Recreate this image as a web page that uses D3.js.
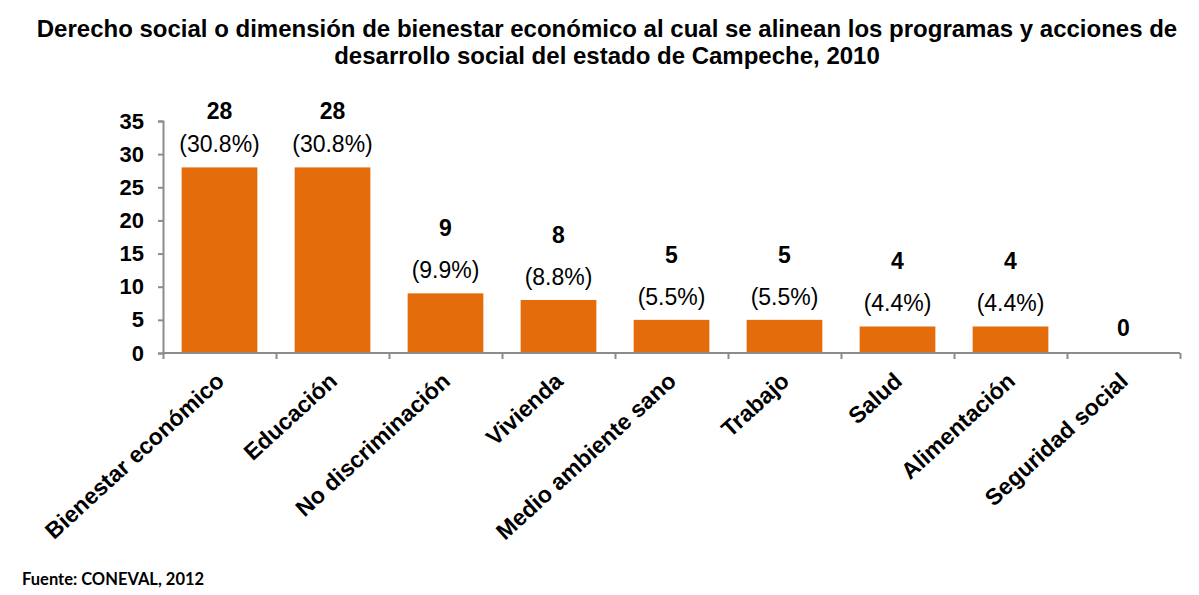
<!DOCTYPE html>
<html><head><meta charset="utf-8">
<script src="https://cdn.jsdelivr.net/npm/d3@7/dist/d3.min.js"></script>
<style>
body{margin:0;background:#fff;}
</style></head>
<body><svg id="c" width="1199" height="595" font-family="Liberation Sans, Arial, sans-serif"></svg>
<script>
const categories = ["Bienestar económico","Educación","No discriminación","Vivienda","Medio ambiente sano","Trabajo","Salud","Alimentación","Seguridad social"];
const values = [28,28,9,8,5,5,4,4,0];
const percentLabels = ["(30.8%)","(30.8%)","(9.9%)","(8.8%)","(5.5%)","(5.5%)","(4.4%)","(4.4%)",""];
const yTicks = [0,5,10,15,20,25,30,35];
const titleLines = ["Derecho social o dimensión de bienestar económico al cual se alinean los programas y acciones de","desarrollo social del estado de Campeche, 2010"];
const sourceText = "Fuente: CONEVAL, 2012";

const svg = d3.select("#c");
const mLeft = 163, mRight = 1180, mTop = 121, mBottom = 353;
const x = d3.scaleBand().domain(categories).range([mLeft, mRight]).paddingInner(0.33).paddingOuter(0.165);
const y = d3.scaleLinear().domain([0,35]).range([mBottom, mTop]);
const axisColor = "#8c8c8c";

// title
svg.append("g").selectAll("text").data(titleLines).join("text")
  .attr("x", 607).attr("y", (d,i)=>37+i*27)
  .attr("text-anchor","middle").attr("font-weight","bold").attr("font-size",24)
  .text(d=>d);

// bars
svg.append("g").selectAll("rect").data(values).join("rect")
  .attr("x",(d,i)=>x(categories[i])).attr("width",x.bandwidth())
  .attr("y",d=>y(d)).attr("height",d=>mBottom-y(d))
  .attr("fill","#E46C0A");

// y axis
const yAxis = svg.append("g").attr("transform",`translate(${mLeft},0)`)
  .call(d3.axisLeft(y).tickValues(yTicks).tickSize(5).tickPadding(14));
yAxis.select(".domain").attr("stroke",axisColor).attr("stroke-width",2);
yAxis.selectAll(".tick line").attr("stroke",axisColor).attr("stroke-width",2);
yAxis.selectAll(".tick text").attr("font-size",22).attr("font-weight","bold").attr("fill","#000")
  .attr("font-family","Liberation Sans, Arial, sans-serif");

// x axis
const xb = d3.scaleLinear().domain([0,categories.length]).range([mLeft,mRight]);
const xAxis = svg.append("g").attr("transform",`translate(0,${mBottom})`)
  .call(d3.axisBottom(xb).tickValues(d3.range(categories.length+1)).tickSize(6).tickFormat(""));
xAxis.select(".domain").attr("stroke",axisColor).attr("stroke-width",2).attr("d",`M${mLeft},0H${mRight}`);
xAxis.selectAll(".tick line").attr("stroke",axisColor).attr("stroke-width",2);

// category labels
svg.append("g").selectAll("text").data(categories).join("text")
  .attr("transform",d=>`translate(${x(d)+x.bandwidth()/2+6},${mBottom+30}) rotate(-42.5)`)
  .attr("text-anchor","end").attr("font-weight","bold").attr("font-size",23)
  .text(d=>d);

// value labels
const lab = svg.append("g");
values.forEach((v,i)=>{
  const cx = x(categories[i])+x.bandwidth()/2;
  const ty = y(v);
  if(percentLabels[i]){
    lab.append("text").attr("x",cx).attr("y",ty-15).attr("text-anchor","middle")
      .attr("font-size",23).text(percentLabels[i]);
    lab.append("text").attr("x",cx).attr("y",Math.max(ty-57,119)).attr("text-anchor","middle")
      .attr("font-size",23).attr("font-weight","bold").text(v);
  } else {
    lab.append("text").attr("x",cx).attr("y",ty-17).attr("text-anchor","middle")
      .attr("font-size",23).attr("font-weight","bold").text(v);
  }
});

// source
svg.append("text").attr("x",22).attr("y",585).style("font-family","Lato, sans-serif")
  .attr("font-weight","bold").attr("font-size",16.5).text(sourceText);
</script></body></html>
